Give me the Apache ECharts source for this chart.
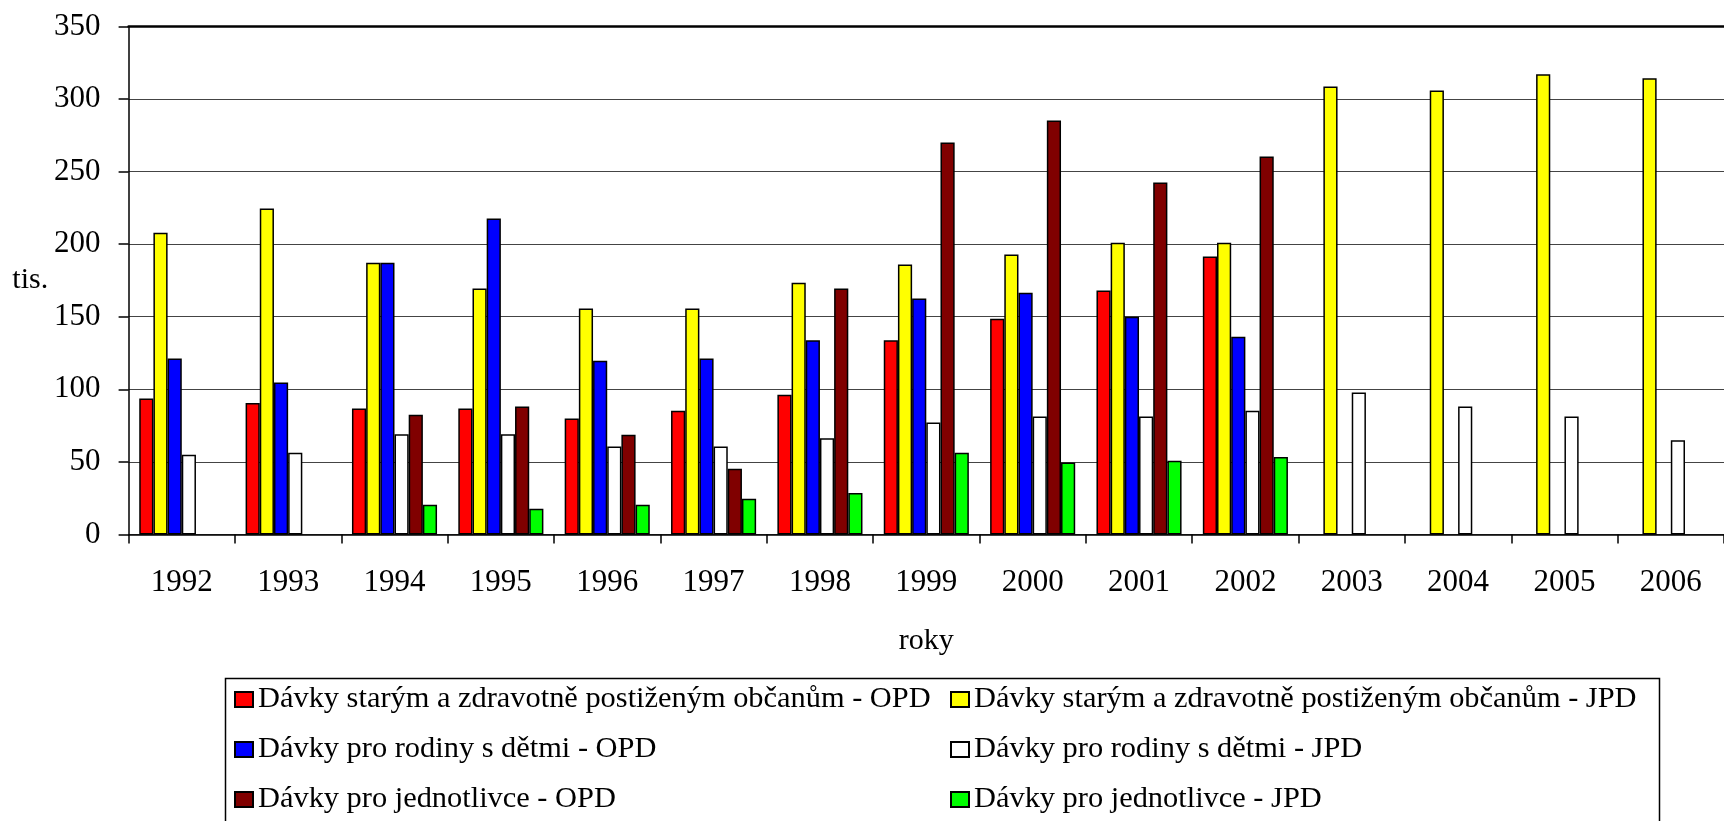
<!DOCTYPE html>
<html>
<head>
<meta charset="utf-8">
<script src="https://cdn.jsdelivr.net/npm/echarts@6/dist/echarts.min.js"></script>
<style>
html,body{margin:0;padding:0;background:#fff;}
#chart{width:1724px;height:821px;}
</style>
</head>
<body>
<div id="chart"></div>
<script>
const years = ['1992','1993','1994','1995','1996','1997','1998','1999','2000','2001','2002','2003','2004','2005','2006'];
const seriesNames = [
  'Dávky starým a zdravotně postiženým občanům - OPD',
  'Dávky starým a zdravotně postiženým občanům - JPD',
  'Dávky pro rodiny s dětmi - OPD',
  'Dávky pro rodiny s dětmi - JPD',
  'Dávky pro jednotlivce - OPD',
  'Dávky pro jednotlivce - JPD'
];
const staryOPD = [93.6, 90.6, 86.7, 86.7, 79.8, 85.2, 96.3, 133.7, 148.5, 168, 191.4, null, null, null, null];
const staryJPD = [207.9, 224.6, 187.2, 169.5, 155.7, 155.7, 173.4, 186, 192.9, 201, 201, 308.6, 305.9, 317, 314.3];
const rodinyOPD = [121.2, 104.7, 187.2, 217.7, 119.7, 121.2, 133.7, 162.6, 166.5, 150, 136.2, null, null, null, null];
const rodinyJPD = [54.9, 56.2, 69, 69, 60.6, 60.6, 66.3, 77.1, 81.3, 81.3, 85.2, 97.8, 88.2, 81.3, 64.8];
const jednotlivciOPD = [null, null, 82.5, 88.2, 68.7, 45.3, 169.5, 270, 285.2, 242.4, 260.3, null, null, null, null];
const jednotlivciJPD = [null, null, 20.4, 17.7, 20.4, 24.6, 28.6, 56.2, 49.5, 50.7, 53.4, null, null, null, null];
const yTicks = {min: 0, max: 350, interval: 50};

const colors = ['#FF0000', '#FFFF00', '#0000FF', '#FFFFFF', '#800000', '#00FF00'];
const dataSets = [staryOPD, staryJPD, rodinyOPD, rodinyJPD, jednotlivciOPD, jednotlivciJPD];
const FONT = '"Liberation Serif", "Times New Roman", serif';

const chart = echarts.init(document.getElementById('chart'));
const legendCommon = {
  orient: 'vertical',
  top: 684,
  padding: 0,
  itemWidth: 18,
  itemHeight: 15,
  itemGap: 19,
  itemTextGap: 6,
  icon: 'rect',
  selectedMode: false,
  textStyle: {fontFamily: FONT, fontSize: 30.4, color: '#000', lineHeight: 31}
};
chart.setOption({
  animation: false,
  backgroundColor: '#fff',
  grid: {left: 128.6, right: -17, top: 26.4, bottom: 286.6},
  legend: [
    Object.assign({left: 234, data: [seriesNames[0], seriesNames[2], seriesNames[4]]}, legendCommon),
    Object.assign({left: 950, data: [seriesNames[1], seriesNames[3], seriesNames[5]]}, legendCommon)
  ],
  graphic: [{
    type: 'rect', left: 223, top: 676,
    shape: {width: 1434, height: 160},
    style: {fill: 'none', stroke: '#000', lineWidth: 1.5},
    silent: true
  }],
  xAxis: [{
    type: 'category',
    data: years,
    name: 'roky',
    nameLocation: 'middle',
    nameGap: 92,
    nameTextStyle: {fontFamily: FONT, fontSize: 30, color: '#000'},
    axisLine: {lineStyle: {color: '#000', width: 1.5}},
    axisTick: {show: true, length: 9, lineStyle: {color: '#000', width: 1.5}},
    axisLabel: {interval: 0, margin: 33, fontFamily: FONT, fontSize: 31, color: '#000'},
    splitLine: {show: false}
  }, {
    type: 'category',
    data: years,
    position: 'top',
    axisLine: {show: true, onZero: false, lineStyle: {color: '#000', width: 2.5}},
    axisTick: {show: false},
    axisLabel: {show: false},
    splitLine: {show: false}
  }],
  yAxis: {
    type: 'value',
    min: yTicks.min, max: yTicks.max, interval: yTicks.interval,
    name: 'tis.',
    nameLocation: 'middle',
    nameRotate: 0,
    nameGap: 78,
    nameTextStyle: {fontFamily: FONT, fontSize: 30, color: '#000', padding: [10, 0, 0, 0]},
    axisLine: {show: true, lineStyle: {color: '#000', width: 1.5}},
    axisTick: {show: true, length: 10, lineStyle: {color: '#000', width: 1.5}},
    axisLabel: {margin: 28, fontFamily: FONT, fontSize: 31, color: '#000'},
    splitLine: {show: true, lineStyle: {color: '#444', width: 1.2}}
  },
  series: seriesNames.map((n, i) => ({
    name: n,
    type: 'bar',
    xAxisIndex: 0,
    data: dataSets[i],
    barGap: '0%',
    barCategoryGap: '20%',
    itemStyle: {color: colors[i], borderColor: '#000', borderWidth: 1.5}
  }))
});
</script>
</body>
</html>
